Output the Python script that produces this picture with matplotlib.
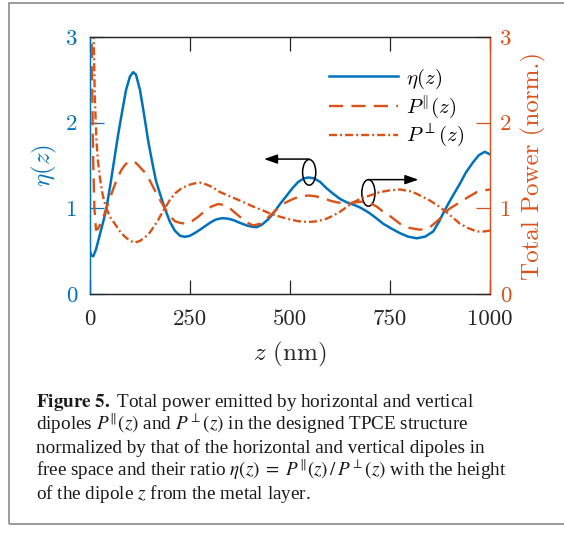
import matplotlib.pyplot as plt
from matplotlib.patches import Ellipse, Rectangle

plt.rcParams['font.family'] = ['Liberation Serif', 'DejaVu Serif']
plt.rcParams['mathtext.fontset'] = 'cm'

blue = '#0072BD'
orange = '#D95319'
dark = '#262626'

# eta(z) = P_par / P_perp
z_eta = [0, 3, 8, 15, 25, 35, 41, 50, 60, 70, 80, 90, 100, 108, 115, 125, 135,
         145, 155, 165, 175, 187, 200, 212, 225, 237, 250, 265, 278, 290, 303,
         315, 330, 345, 360, 375, 392, 405, 417, 430, 445, 458, 475, 492, 507,
         521, 535, 546, 560, 575, 590, 608, 625, 642, 660, 675, 690, 700, 717,
         733, 755, 775, 795, 817, 838, 858, 872, 887, 905, 925, 940, 958, 972,
         987, 1000]
eta = [0.50, 0.45, 0.44, 0.52, 0.70, 0.88, 1.00, 1.25, 1.55, 1.85, 2.12, 2.38,
       2.54, 2.59, 2.56, 2.38, 2.10, 1.80, 1.55, 1.32, 1.17, 1.00, 0.84, 0.74,
       0.68, 0.667, 0.68, 0.72, 0.76, 0.80, 0.84, 0.87, 0.885, 0.88, 0.86, 0.83,
       0.80, 0.785, 0.78, 0.81, 0.87, 0.94, 1.05, 1.15, 1.24, 1.31, 1.35, 1.36,
       1.35, 1.31, 1.24, 1.17, 1.11, 1.07, 1.04, 1.01, 0.97, 0.94, 0.88, 0.82,
       0.76, 0.71, 0.67, 0.65, 0.67, 0.73, 0.84, 0.98, 1.13, 1.29, 1.42, 1.54,
       1.62, 1.66, 1.63]

# total power of the horizontal dipole (normalized)
z_par = [0, 3, 5, 8, 11, 15, 20, 25, 30, 35, 41, 50, 60, 70, 80, 90, 100, 108,
         115, 125, 137, 150, 162, 175, 187, 200, 212, 225, 241, 255, 270, 285,
         303, 320, 335, 350, 362, 375, 390, 408, 425, 442, 458, 475, 490, 508,
         525, 546, 565, 583, 600, 617, 635, 650, 665, 683, 700, 717, 733, 750,
         775, 800, 825, 850, 865, 875, 887, 900, 925, 945, 967, 985, 1000]
p_par = [5.0, 3.6, 2.6, 1.55, 1.0, 0.75, 0.76, 0.81, 0.86, 0.92, 1.00, 1.12,
         1.25, 1.37, 1.46, 1.52, 1.55, 1.55, 1.53, 1.48, 1.42, 1.32, 1.21, 1.10,
         1.00, 0.91, 0.85, 0.83, 0.82, 0.85, 0.90, 0.96, 1.02, 1.05, 1.04, 1.00,
         0.95, 0.90, 0.84, 0.80, 0.82, 0.88, 0.95, 1.02, 1.07, 1.11, 1.14, 1.15,
         1.14, 1.12, 1.09, 1.07, 1.06, 1.06, 1.07, 1.08, 1.06, 1.02, 0.96, 0.91,
         0.82, 0.77, 0.75, 0.78, 0.84, 0.88, 0.95, 1.00, 1.07, 1.13, 1.19, 1.21,
         1.22]

# total power of the vertical dipole (normalized)
z_perp = [0, 4, 8, 12, 16, 20, 25, 30, 35, 41, 50, 62, 75, 87, 100, 112, 125,
          137, 150, 160, 170, 178, 187, 200, 214, 228, 245, 260, 275, 290, 305,
          325, 350, 375, 408, 430, 450, 470, 492, 520, 546, 570, 592, 610, 625,
          640, 658, 680, 700, 725, 750, 775, 800, 817, 833, 850, 870, 887, 905,
          925, 945, 967, 985, 1000]
p_perp = [10.0, 5.0, 3.3, 2.3, 1.8, 1.55, 1.35, 1.20, 1.09, 1.00, 0.90, 0.82,
          0.73, 0.67, 0.62, 0.60, 0.62, 0.66, 0.72, 0.79, 0.86, 0.93, 1.00, 1.10,
          1.18, 1.23, 1.27, 1.29, 1.30, 1.28, 1.25, 1.19, 1.14, 1.09, 1.02, 0.98,
          0.94, 0.91, 0.88, 0.85, 0.84, 0.85, 0.88, 0.92, 0.96, 1.01, 1.07, 1.12,
          1.15, 1.19, 1.21, 1.22, 1.20, 1.17, 1.13, 1.09, 1.03, 0.97, 0.90, 0.82,
          0.77, 0.73, 0.73, 0.74]

x_ticks = [0, 250, 500, 750, 1000]
y_ticks = [0, 1, 2, 3]

caption = [
    r'$\mathbf{Figure\ 5.}$ Total power emitted by horizontal and vertical',
    r'dipoles $P^{\|}(z)$ and $P^{\perp}(z)$ in the designed TPCE structure',
    'normalized by that of the horizontal and vertical dipoles in',
    r'free space and their ratio $\eta(z)\;=\;P^{\|}(z)\,/\,P^{\perp}(z)$ with the height',
    r'of the dipole $z$ from the metal layer.',
]

W, H = 564, 535
fig = plt.figure(figsize=(W / 100, H / 100), dpi=100)
ax = fig.add_axes([90 / W, 1 - 294 / H, 400 / W, 257 / H])
ax2 = ax.twinx()

l1, = ax.plot(z_eta, eta, color=blue, lw=1.8, label=r'$\eta(z)$')
l2, = ax2.plot(z_par, p_par, color=orange, lw=1.7, dashes=(6, 3.5),
               label=r'$P^{\|}(z)$')
l3, = ax2.plot(z_perp, p_perp, color=orange, lw=1.7, dashes=(3.4, 1.3, 0.8, 1.3),
               label=r'$P^{\perp}(z)$')

for a in (ax, ax2):
    a.set_xlim(0, 1000)
    a.set_ylim(0, 3)
    a.set_yticks(y_ticks)
    a.spines['left'].set_color(blue)
    a.spines['right'].set_color(orange)
    a.spines['top'].set_color(dark)
    a.spines['bottom'].set_color(dark)
    for s in a.spines.values():
        s.set_linewidth(0.9)

ax.set_xticks(x_ticks)
ax.tick_params(axis='x', direction='in', top=True, length=10, width=0.9,
               colors=dark, labelsize=16.5, pad=11, labelfontfamily='cmr10')
ax.tick_params(axis='y', direction='in', length=10, width=0.9,
               colors=blue, labelsize=16.5, pad=9, labelfontfamily='cmr10')
ax2.tick_params(axis='y', direction='in', length=10, width=0.9,
                colors=orange, labelsize=16.5, pad=7, labelfontfamily='cmr10')

ax.set_xlabel(r'$z$ (nm)', fontsize=18, color=dark, fontfamily='cmr10')
ax.xaxis.set_label_coords(0.5, -0.178)
ax.set_ylabel(r'$\eta(z)$', fontsize=18, color=blue)
ax.yaxis.set_label_coords(-0.078, 0.5)
ax2.set_ylabel('Total Power (norm.)', fontsize=18, color=orange,
               fontfamily='cmr10')
ax2.yaxis.set_label_coords(1.078, 0.5)

ax2.legend(handles=[l1, l2, l3], loc='upper left', bbox_to_anchor=(0.5975, 0.885),
           frameon=False, fontsize=15, handlelength=3.3, handletextpad=0.4,
           labelspacing=0.12, borderpad=0, borderaxespad=0)

# ellipses and arrows marking which axis each group belongs to
ax2.add_patch(Ellipse((548, 1.42), 33, 0.30, fill=False, ec='k', lw=1.1))
ax2.annotate('', xy=(435, 1.575), xytext=(548, 1.575),
             arrowprops=dict(arrowstyle='-|>,head_length=0.8,head_width=0.28',
                             color='k', lw=1.1, shrinkA=0, shrinkB=0))
ax2.add_patch(Ellipse((696, 1.18), 33, 0.31, fill=False, ec='k', lw=1.1))
ax2.annotate('', xy=(821, 1.335), xytext=(696, 1.335),
             arrowprops=dict(arrowstyle='-|>,head_length=0.8,head_width=0.28',
                             color='k', lw=1.1, shrinkA=0, shrinkB=0))

# caption frame and text
fig.add_artist(Rectangle((9 / W, 1 - 524 / H), (570 - 9) / W, (524 - 3) / H,
                         transform=fig.transFigure, fill=False,
                         ec='#8a8a8a', lw=1.2))
baselines = [407, 430, 453, 476, 499]
for line, yb in zip(caption, baselines):
    fig.text(36 / W, 1 - yb / H, line, fontsize=13.8, color='#1a1a1a',
             va='baseline', ha='left', math_fontfamily='stix')

fig.savefig('out.png', dpi=100)
